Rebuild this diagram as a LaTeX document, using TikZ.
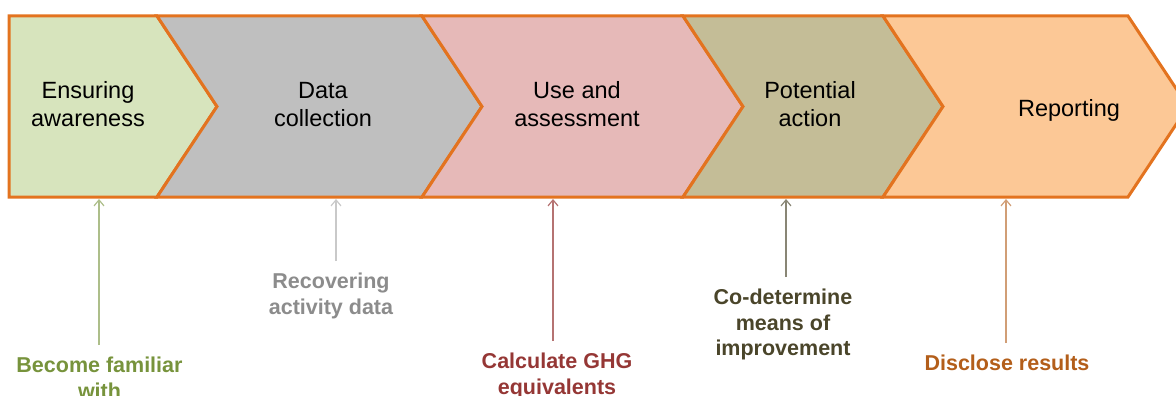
\documentclass[tikz,border=0pt]{standalone}
\usepackage{fontspec}
\setmainfont{Liberation Sans}
\usepackage{tikz}
\usetikzlibrary{arrows.meta,positioning,calc}
\definecolor{rim}{HTML}{E3731F}
\definecolor{sage}{HTML}{D7E4BD}
\definecolor{ash}{HTML}{BFBFBF}
\definecolor{rose}{HTML}{E6B9B8}
\definecolor{khaki}{HTML}{C4BD97}
\definecolor{peach}{HTML}{FCC896}
\definecolor{leaf}{HTML}{77933C}
\definecolor{stone}{HTML}{8C8C8C}
\definecolor{wine}{HTML}{953735}
\definecolor{moss}{HTML}{4A452A}
\definecolor{rust}{HTML}{B35E1A}

\begin{document}
\begin{tikzpicture}[x=1pt,y=-1pt,line join=miter,
  chev/.style={draw=rim,line width=3pt},
  phase/.style={font=\fontsize{23.5}{28}\selectfont,align=center,inner sep=0pt},
  task/.style={font=\bfseries\fontsize{21.5}{25.5}\selectfont,align=center,inner sep=0pt,anchor=north},
  hint/.style={-{Straight Barb[length=6pt,width=10pt]},line width=1.2pt,shorten <=12pt}]
\useasboundingbox (0,0) rectangle (1176,396);
\clip (0,0) rectangle (1176,396);
% chevrons
\draw[chev,fill=sage] (9,16) -- (157,16) -- (217,106.5) -- (157,197) -- (9,197) -- cycle;
\draw[chev,fill=ash] (157,16) -- (422,16) -- (482,106.5) -- (422,197) -- (157,197) -- (217,106.5) -- cycle;
\draw[chev,fill=rose] (422,16) -- (683,16) -- (743,106.5) -- (683,197) -- (422,197) -- (482,106.5) -- cycle;
\draw[chev,fill=khaki] (683,16) -- (883,16) -- (943,106.5) -- (883,197) -- (683,197) -- (743,106.5) -- cycle;
\draw[chev,fill=peach] (883,16) -- (1128,16) -- (1188,106.5) -- (1128,197) -- (883,197) -- (943,106.5) -- cycle;
% phase names
\node[phase] (aware) at (88,104.5) {Ensuring\\awareness};
\node[phase] (collect) at (323,104.5) {Data\\collection};
\node[phase] (assess) at (577,104.5) {Use and\\assessment};
\node[phase] (act) at (810,104.5) {Potential\\action};
\node[phase,anchor=base] (report) at (1069,117) {Reporting};
% feet of the arrows
\coordinate (awareF) at (99,199);
\coordinate (collectF) at (336,199);
\coordinate (assessF) at (553,199);
\coordinate (actF) at (786,199);
\coordinate (reportF) at (1006,199);
% tasks under each phase
\node[task,text=leaf] (familiar) at (99.5,357) {Become familiar\\with};
\node[task,text=stone] (recover) at (331,273) {Recovering\\activity data};
\node[task,text=wine] (ghg) at (557,353) {Calculate GHG\\equivalents};
\node[task,text=moss] (means) at (783,289) {Co-determine\\means of\\improvement};
\node[task,text=rust] (disclose) at (1007,355) {Disclose results};
% arrows up to the chevrons
\draw[hint,draw=leaf!60] (familiar.north -| awareF) -- (awareF);
\draw[hint,draw=ash!85] (recover.north -| collectF) -- (collectF);
\draw[hint,draw=wine!70] (ghg.north -| assessF) -- (assessF);
\draw[hint,draw=moss!65] (means.north -| actF) -- (actF);
\draw[hint,draw=rust!60] (disclose.north -| reportF) -- (reportF);
\end{tikzpicture}
\end{document}
